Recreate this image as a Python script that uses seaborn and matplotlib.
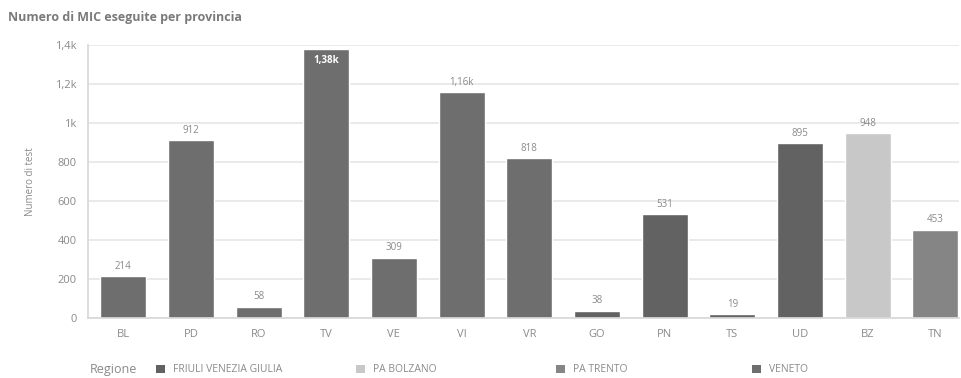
import matplotlib
matplotlib.use("Agg")
import matplotlib.pyplot as plt
import seaborn as sns
import pandas as pd
from matplotlib.patches import Patch

province = ["BL", "PD", "RO", "TV", "VE", "VI", "VR", "GO", "PN", "TS", "UD", "BZ", "TN"]
values = [214, 912, 58, 1380, 309, 1160, 818, 38, 531, 19, 895, 948, 453]
labels = ["214", "912", "58", "1,38k", "309", "1,16k", "818", "38", "531", "19", "895", "948", "453"]
regioni = ["VENETO"] * 7 + ["FRIULI VENEZIA GIULIA"] * 4 + ["PA BOLZANO", "PA TRENTO"]
legend_order = ["FRIULI VENEZIA GIULIA", "PA BOLZANO", "PA TRENTO", "VENETO"]
colors = {"FRIULI VENEZIA GIULIA": "#626262", "PA BOLZANO": "#c8c8c8",
          "PA TRENTO": "#858585", "VENETO": "#6e6e6e"}
yticks = [0, 200, 400, 600, 800, 1000, 1200, 1400]
yticklabels = ["0", "200", "400", "600", "800", "1k", "1,2k", "1,4k"]

df = pd.DataFrame({"Provincia": province, "Valore": values, "Regione": regioni})

sns.set_theme(style="white")
plt.rcParams['font.family'] = ['Open Sans', 'DejaVu Sans']

fig = plt.figure(figsize=(9.61, 3.78), dpi=100)
ax = fig.add_axes([88 / 961, 1 - 318 / 378, (959 - 88) / 961, (318 - 45) / 378])

sns.barplot(data=df, x="Provincia", y="Valore", hue="Regione", palette=colors,
            dodge=False, width=0.68, ax=ax, legend=False, saturation=1)

ax.set_ylim(0, 1400)
ax.set_xlim(-0.52, 12.35)
ax.set_yticks(yticks)
ax.set_yticklabels(yticklabels)
ax.yaxis.grid(True, color="#e6e6e6", linewidth=1.2)
ax.set_axisbelow(True)
for s in ["top", "right"]:
    ax.spines[s].set_visible(False)
for s in ["left", "bottom"]:
    ax.spines[s].set_color("#d8d8d8")
ax.tick_params(axis="both", colors="#8a8a8a", labelsize=8, length=0, pad=8)
ax.set_xlabel("")
ax.set_ylabel("Numero di test", fontsize=7, color="#8a8a8a", labelpad=14)

for i, (v, lab) in enumerate(zip(values, labels)):
    if v >= 1350:
        ax.text(i, v - 30, lab, ha="center", va="top", fontsize=7, color="white", fontweight="bold")
    else:
        ax.text(i, v + 22, lab, ha="center", va="bottom", fontsize=7, color="#8a8a8a")

fig.text(8 / 961, 1 - 18 / 378, "Numero di MIC eseguite per provincia", fontsize=9,
         fontweight="bold", color="#7a7a7a", va="center")

fig.text(90 / 961, 1 - 370 / 378, "Regione", fontsize=9, color="#8a8a8a", va="center")
xpos = [152, 352, 552, 748]
for x, name in zip(xpos, legend_order):
    leg = fig.legend(handles=[Patch(facecolor=colors[name], edgecolor="none")],
                     labels=[name], loc="center left",
                     bbox_to_anchor=(x / 961, 1 - 370 / 378), frameon=False,
                     fontsize=7.5, handlelength=0.8, handleheight=0.8,
                     handletextpad=0.8, borderaxespad=0)
    for t in leg.get_texts():
        t.set_color("#8a8a8a")

fig.savefig("out.png", dpi=100, facecolor="white")
